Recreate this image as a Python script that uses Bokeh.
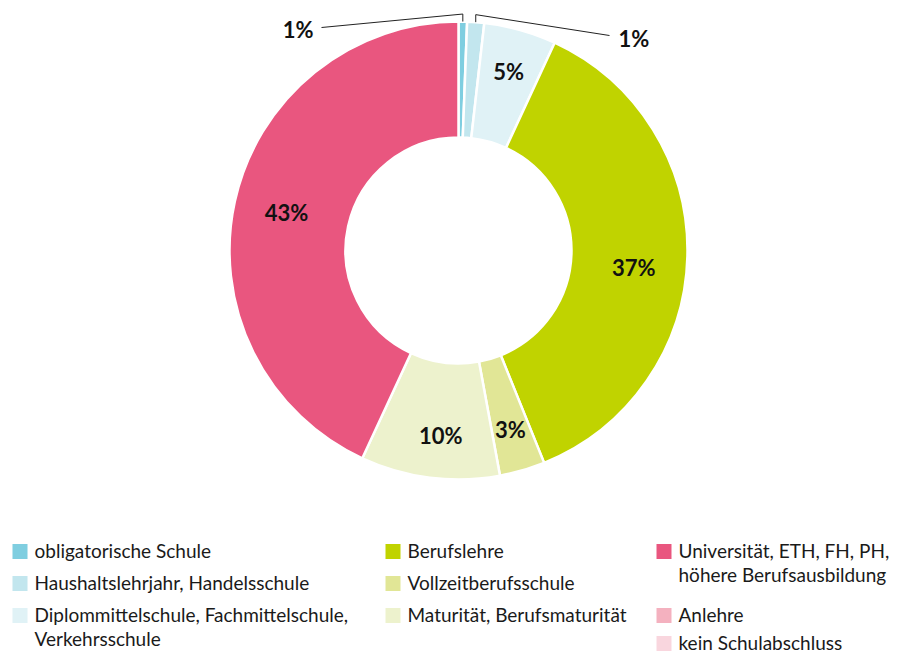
import numpy as np
from bokeh.plotting import figure
from bokeh.models import Range1d, ColumnDataSource
from bokeh.core.properties import value
from bokeh.embed import file_html
from bokeh.resources import INLINE

# ---- data ----
categories = [
    "obligatorische Schule",
    "Haushaltslehrjahr, Handelsschule",
    "Diplommittelschule, Fachmittelschule,\nVerkehrsschule",
    "Berufslehre",
    "Vollzeitberufsschule",
    "Maturität, Berufsmaturität",
    "Universität, ETH, FH, PH,\nhöhere Berufsausbildung",
    "Anlehre",
    "kein Schulabschluss",
]
shares = [0.6, 1.2, 5.1, 37.0, 3.2, 9.8, 43.1, 0.0, 0.0]
share_labels = ["1%", "1%", "5%", "37%", "3%", "10%", "43%", "", ""]
colors = ["#7fcee0", "#c2e6ee", "#e0f2f6", "#c0d300", "#e1e696",
          "#edf2cd", "#e9567f", "#f4b1bf", "#f9d6de"]

# ---- layout ----
W, H = 891, 654
FONT = "Lato"


def Y(y_ref):
    return H - y_ref


def X(x_ref):
    return x_ref


cx, cy = X(458), Y(250)
r_out, r_in = 229, 113

p = figure(width=W, height=H, output_backend="svg", toolbar_location=None,
           x_range=Range1d(0, W), y_range=Range1d(0, H), min_border=0)
p.axis.visible = False
p.grid.visible = False
p.outline_line_color = None
p.background_fill_color = "white"

vals = np.array(shares)
cum = np.concatenate([[0], np.cumsum(vals)]) / vals.sum()
start = np.pi / 2 - cum[:-1] * 2 * np.pi
end = np.pi / 2 - cum[1:] * 2 * np.pi
mid = (start + end) / 2

nz = vals > 0
src = ColumnDataSource(dict(start=start[nz], end=end[nz],
                            color=[c for c, k in zip(colors, nz) if k]))
p.annular_wedge(x=cx, y=cy, inner_radius=r_in, outer_radius=r_out,
                start_angle="end", end_angle="start", direction="anticlock",
                fill_color="color", line_color="white", line_width=2.5,
                source=src)

# in-slice labels (angle nudges in radians, radius per label)
nudge = {3: -0.07, 5: 0.03}
lab_x, lab_y, lab_t = [], [], []
for i in range(len(vals)):
    if vals[i] >= 3:
        rr = 176 if vals[i] > 20 else 186
        a = mid[i] + nudge.get(i, 0.0)
        lab_x.append(cx + rr * np.cos(a))
        lab_y.append(cy + rr * np.sin(a))
        lab_t.append(share_labels[i])
p.text(x=lab_x, y=lab_y, text=lab_t, text_font=value(FONT),
       text_font_style="bold", text_font_size="22px", text_color="#111111",
       text_align="center", text_baseline="middle")

# leader lines for small slices (first two)
for i, (lx, ly, align) in zip([0, 1], [(X(321), Y(27), "right"), (X(609), Y(35), "left")]):
    ex = cx + r_out * np.cos(mid[i])
    ey0 = cy + r_out * np.sin(mid[i])
    ey1 = ey0 + 7.5
    p.line(x=[ex, ex, lx], y=[ey0, ey1, ly], line_color="#222222", line_width=1)
    p.text(x=[lx + (-8 if align == "right" else 9)], y=[ly + (-2 if align == "right" else -3)],
           text=[share_labels[i]],
           text_font=value(FONT), text_font_style="bold", text_font_size="22px",
           text_color="#111111", text_align=align, text_baseline="middle")

# legend (manual)
col_x = [X(12), X(385), X(656)]
row_y = [Y(551), Y(583), Y(615), Y(643)]
grid = [(0, 0), (0, 1), (0, 2), (1, 0), (1, 1), (1, 2), (2, 0), (2, 2), (2, 3)]
line_gap = 24
sq = 15
mx, my, mc = [], [], []
tx, ty, tt = [], [], []
for cat, col, (c, r) in zip(categories, colors, grid):
    mx.append(col_x[c] + sq / 2)
    my.append(row_y[r])
    mc.append(col)
    for k, line in enumerate(cat.split("\n")):
        tx.append(col_x[c] + 22)
        ty.append(row_y[r] + 1 - k * line_gap)
        tt.append(line)
p.rect(x=mx, y=my, width=sq, height=sq, fill_color=mc, line_color=None)
p.text(x=tx, y=ty, text=tt, text_font=value(FONT), text_font_size="19px",
       text_color="#1a1a1a", text_align="left", text_baseline="middle")

open("out.html", "w").write(file_html(p, INLINE))
